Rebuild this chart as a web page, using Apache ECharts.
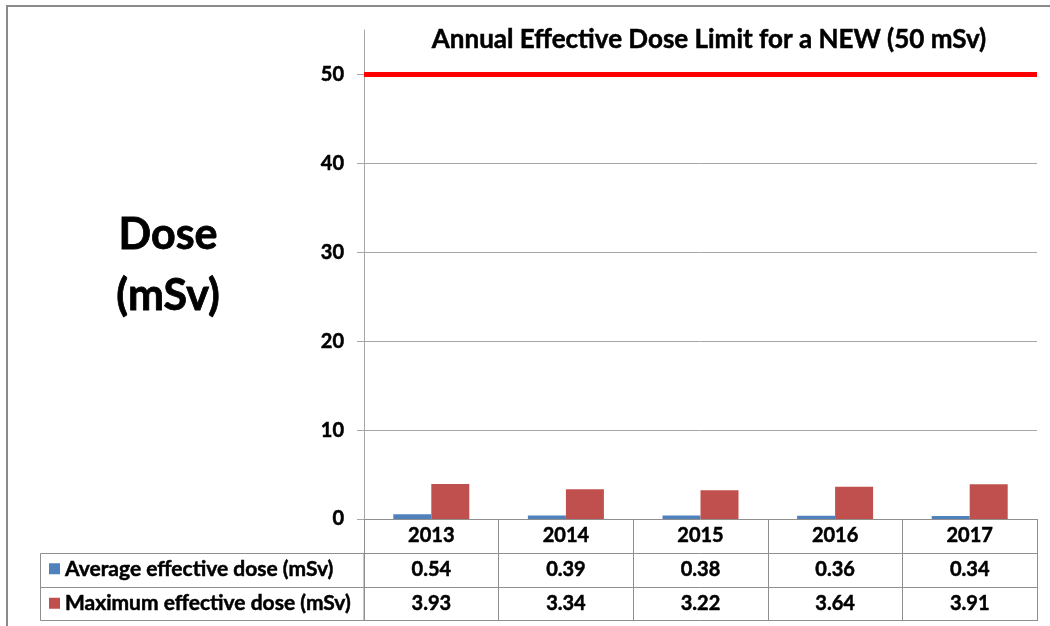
<!DOCTYPE html>
<html>
<head>
<meta charset="utf-8">
<title>Annual Effective Dose</title>
<script src="https://cdn.jsdelivr.net/npm/echarts@6/dist/echarts.min.js"></script>
<style>
  html, body { margin: 0; padding: 0; background: #ffffff; }
  #chart { width: 1050px; height: 626px; }
</style>
</head>
<body>
<div id="chart"></div>
<script>
// Dose records per year (mSv)
const years = ['2013', '2014', '2015', '2016', '2017'];
const averageDose = [0.54, 0.39, 0.38, 0.36, 0.34];
const maximumDose = [3.93, 3.34, 3.22, 3.64, 3.91];
const seriesNames = ['Average effective dose (mSv)', 'Maximum effective dose (mSv)'];

// Regulatory limit and value-axis ticks
const doseLimit = 50;
const limitTitle = 'Annual Effective Dose Limit for a NEW (50 mSv)';
const yAxisTitle = 'Dose\n(mSv)';
const yTicks = [0, 10, 20, 30, 40, 50];
const yMax = 55;

const FONT = 'Lato, "Open Sans", "Liberation Sans", sans-serif';
const GRID_COLOR = '#a6a6a6';
const TABLE_COLOR = '#8f8f8f';
const BLUE = '#4f81bd';
const RED = '#c0504d';
// slight outline to give the bold text a heavier stroke
const HEAVY = { textBorderColor: '#000', textBorderWidth: 0.5 };

const gridLeft = 364, gridRight = 13, gridTop = 30, gridBottom = 107;
const rowH = 34;

const chart = echarts.init(document.getElementById('chart'), null, { renderer: 'canvas' });

const cellText = Object.assign({
  color: '#000', fontFamily: FONT, fontWeight: 'bold', fontSize: 20
}, HEAVY);

// Table rows below the plot: each row is a category axis sharing the grid
function tableRowAxis(offset, labels) {
  return {
    type: 'category',
    data: years,
    position: 'bottom',
    offset: offset,
    axisLine: { show: true, lineStyle: { color: TABLE_COLOR, width: 1 } },
    axisTick: { show: false },
    splitLine: { show: false },
    axisLabel: labels ? Object.assign({
      show: true,
      interval: 0,
      margin: 7,
      formatter: (v, i) => labels[i].toFixed(2)
    }, cellText) : { show: false }
  };
}

// Horizontal gridlines above zero, drawn on the value scale
const gridLines = yTicks.filter(v => v > 0 && v < doseLimit).map(v => ({
  yAxis: v,
  lineStyle: { color: GRID_COLOR, width: 1, type: 'solid' }
}));

const option = {
  animation: false,
  backgroundColor: '#ffffff',
  textStyle: { fontFamily: FONT },
  grid: { left: gridLeft, right: gridRight, top: gridTop, bottom: gridBottom, containLabel: false },
  legend: {
    orient: 'vertical',
    left: 49,
    top: 558,
    padding: 0,
    selectedMode: false,
    icon: 'rect',
    itemWidth: 11,
    itemHeight: 11,
    itemGap: 13,
    textStyle: Object.assign({ color: '#000', fontFamily: FONT, fontWeight: 'bold', fontSize: 21, lineHeight: 21 }, HEAVY),
    data: seriesNames
  },
  xAxis: [
    {
      type: 'category',
      data: years,
      position: 'bottom',
      boundaryGap: true,
      axisLine: { show: true, lineStyle: { color: TABLE_COLOR, width: 1 } },
      axisTick: { show: true, alignWithLabel: false, length: rowH * 3, lineStyle: { color: TABLE_COLOR, width: 1 } },
      splitLine: { show: false },
      axisLabel: Object.assign({ interval: 0, margin: 7 }, cellText)
    },
    tableRowAxis(rowH, averageDose),
    tableRowAxis(rowH * 2, maximumDose),
    tableRowAxis(rowH * 3 - 1, null)
  ],
  yAxis: {
    type: 'value',
    min: 0,
    max: yMax,
    interval: 10,
    axisLine: { show: true, lineStyle: { color: GRID_COLOR, width: 1 } },
    axisTick: { show: true, customValues: yTicks, length: 7, lineStyle: { color: GRID_COLOR } },
    splitLine: { show: false },
    axisLabel: Object.assign({
      customValues: yTicks,
      margin: 20,
      color: '#000', fontFamily: FONT, fontWeight: 'bold', fontSize: 20
    }, HEAVY)
  },
  graphic: [
    // outer chart frame
    { type: 'rect', silent: true, shape: { x: 7, y: 6, width: 1200, height: 800 },
      style: { fill: 'none', stroke: '#8a8a8a', lineWidth: 2 } },
    // series-name column of the data table
    { type: 'rect', silent: true, shape: { x: 40.5, y: 553.5, width: gridLeft - 40.5, height: rowH * 2 - 1 },
      style: { fill: 'none', stroke: TABLE_COLOR, lineWidth: 1 } },
    { type: 'line', silent: true, shape: { x1: 40.5, y1: 587.5, x2: gridLeft, y2: 587.5 },
      style: { stroke: TABLE_COLOR, lineWidth: 1 } },
    // value-axis title
    { type: 'text', silent: true, x: 168, y: 266,
      style: { text: yAxisTitle, fill: '#000', font: 'bold 43px ' + FONT, lineHeight: 61,
               textAlign: 'center', textVerticalAlign: 'middle', stroke: '#000', lineWidth: 0.8 } },
    // limit caption
    { type: 'text', silent: true, x: 709, y: 40,
      style: { text: limitTitle, fill: '#000', font: 'bold 26px ' + FONT, textAlign: 'center', textVerticalAlign: 'middle',
               stroke: '#000', lineWidth: 0.5 } }
  ],
  series: [
    {
      name: seriesNames[0],
      type: 'bar',
      data: averageDose,
      barWidth: 38,
      barGap: '0%',
      itemStyle: { color: BLUE },
      silent: true
    },
    {
      name: seriesNames[1],
      type: 'bar',
      data: maximumDose,
      barWidth: 38,
      barGap: '0%',
      itemStyle: { color: RED },
      silent: true,
      markLine: {
        silent: true,
        symbol: 'none',
        label: { show: false },
        data: gridLines.concat([{ yAxis: doseLimit, lineStyle: { color: '#ff0000', width: 5, type: 'solid' } }])
      }
    }
  ]
};

chart.setOption(option);
</script>
</body>
</html>
